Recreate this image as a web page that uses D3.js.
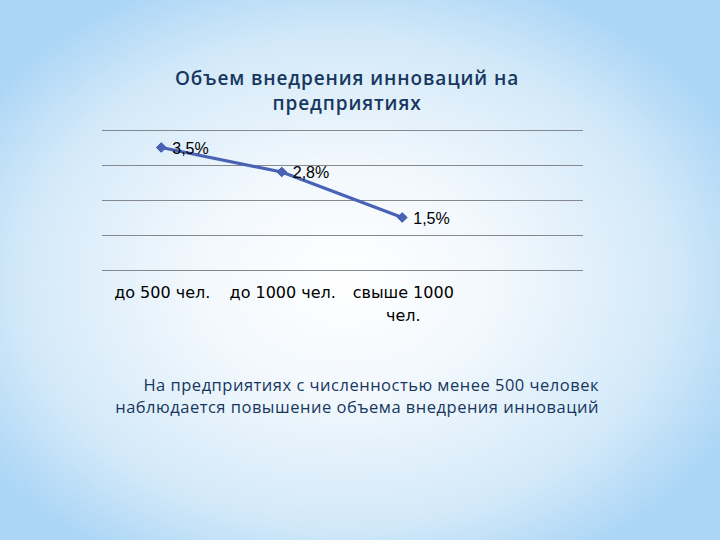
<!DOCTYPE html>
<html>
<head>
<meta charset="utf-8">
<script src="https://cdn.jsdelivr.net/npm/d3@7"></script>
<style>
  body { margin: 0; padding: 0; }
  svg { display: block; }
  .title, .note { font-family: "Open Sans", sans-serif; fill: #17375e; }
  .cat { font-family: "DejaVu Sans", sans-serif; fill: #000; }
  .val { font-family: "Liberation Sans", Arial, sans-serif; fill: #000; }
</style>
</head>
<body>
<div id="chart"></div>
<script>
// Chart data
var categories = ["до 500 чел.", "до 1000 чел.", "свыше 1000 чел."];
var values = [3.5, 2.8, 1.5];
var valueLabels = ["3,5%", "2,8%", "1,5%"];
var yTicks = [0, 1, 2, 3, 4];
var titleLines = ["Объем внедрения инноваций на", "предприятиях"];
var noteLines = ["На предприятиях с численностью менее 500 человек",
                 "наблюдается повышение объема внедрения инноваций"];

(function() {
    var width = 720, height = 540;

    var svg = d3.select("#chart").append("svg")
        .attr("width", width)
        .attr("height", height);

    // Background: white glow in the middle, light blue to the edges
    var defs = svg.append("defs");
    var grad = defs.append("radialGradient")
        .attr("id", "bg")
        .attr("cx", "48%").attr("cy", "52%")
        .attr("r", "60%");
    grad.append("stop").attr("offset", "0%").attr("stop-color", "#ffffff");
    grad.append("stop").attr("offset", "35%").attr("stop-color", "#f2f8fd");
    grad.append("stop").attr("offset", "75%").attr("stop-color", "#d3e9f9");
    grad.append("stop").attr("offset", "100%").attr("stop-color", "#acd6f6");

    svg.append("rect")
        .attr("width", width).attr("height", height)
        .attr("fill", "url(#bg)");

    // Plot area
    var plot = {left: 102, right: 583, top: 130, bottom: 270};

    // categories fill three bands of the plot, the rest stays empty
    var x = d3.scaleBand()
        .domain(categories)
        .range([plot.left - 1, plot.left - 1 + 3 * 120.5]);

    var y = d3.scaleLinear()
        .domain([0, 4])
        .range([plot.bottom, plot.top]);

    // Gridlines
    svg.append("g")
        .selectAll("line")
        .data(yTicks)
        .enter().append("line")
            .attr("x1", plot.left)
            .attr("x2", plot.right)
            .attr("y1", function(d) { return y(d) + 0.5; })
            .attr("y2", function(d) { return y(d) + 0.5; })
            .attr("stroke", "#85888c")
            .attr("stroke-width", 1);

    // Title
    svg.append("text")
        .attr("class", "title")
        .attr("y", 85)
        .attr("text-anchor", "middle")
        .attr("font-weight", 600)
        .attr("font-size", 19)
        .attr("letter-spacing", 0.9)
        .selectAll("tspan")
        .data(titleLines)
        .enter().append("tspan")
            .attr("x", 347)
            .attr("dy", function(d, i) { return i === 0 ? 0 : 25; })
            .text(function(d) { return d; });

    // Line
    var px = function(d, i) { return x(categories[i]) + x.bandwidth() / 2; };

    var valueline = d3.line()
        .x(px)
        .y(function(d) { return y(d); });

    svg.append("path")
        .attr("d", valueline(values))
        .attr("fill", "none")
        .attr("stroke", "#4a62b6")
        .attr("stroke-width", 3.2)
        .attr("stroke-linejoin", "round");

    // Diamond markers
    svg.append("g")
        .selectAll("path")
        .data(values)
        .enter().append("path")
            .attr("d", d3.symbol().type(d3.symbolDiamond2).size(60))
            .attr("transform", function(d, i) {
                return "translate(" + px(d, i) + "," + y(d) + ")";
            })
            .attr("fill", "#4a62b6")
            .attr("stroke", "#3c54a6")
            .attr("stroke-width", 1);

    // Data labels
    svg.append("g")
        .selectAll("text")
        .data(values)
        .enter().append("text")
            .attr("class", "val")
            .attr("x", function(d, i) { return px(d, i) + 11; })
            .attr("y", function(d) { return y(d) + 6; })
            .attr("font-size", 16)
            .text(function(d, i) { return valueLabels[i]; });

    // Category labels (last one wraps onto two lines)
    var catLines = [["до 500 чел."], ["до 1000 чел."], ["свыше 1000", "чел."]];
    svg.append("g")
        .selectAll("text")
        .data(categories)
        .enter().append("text")
            .attr("class", "cat")
            .attr("text-anchor", "middle")
            .attr("font-size", 16)
            .attr("y", 298)
            .each(function(d, i) {
                var cx = x(d) + x.bandwidth() / 2 + 1;
                d3.select(this).selectAll("tspan")
                    .data(catLines[i])
                    .enter().append("tspan")
                        .attr("x", cx)
                        .attr("dy", function(t, j) { return j === 0 ? 0 : 23; })
                        .text(function(t) { return t; });
            });

    // Note under the chart
    svg.append("text")
        .attr("class", "note")
        .attr("y", 391)
        .attr("text-anchor", "end")
        .attr("font-size", 16.5)
        .attr("letter-spacing", 0.5)
        .selectAll("tspan")
        .data(noteLines)
        .enter().append("tspan")
            .attr("x", 599)
            .attr("dy", function(d, i) { return i === 0 ? 0 : 22; })
            .text(function(d) { return d; });
})();
</script>
</body>
</html>
